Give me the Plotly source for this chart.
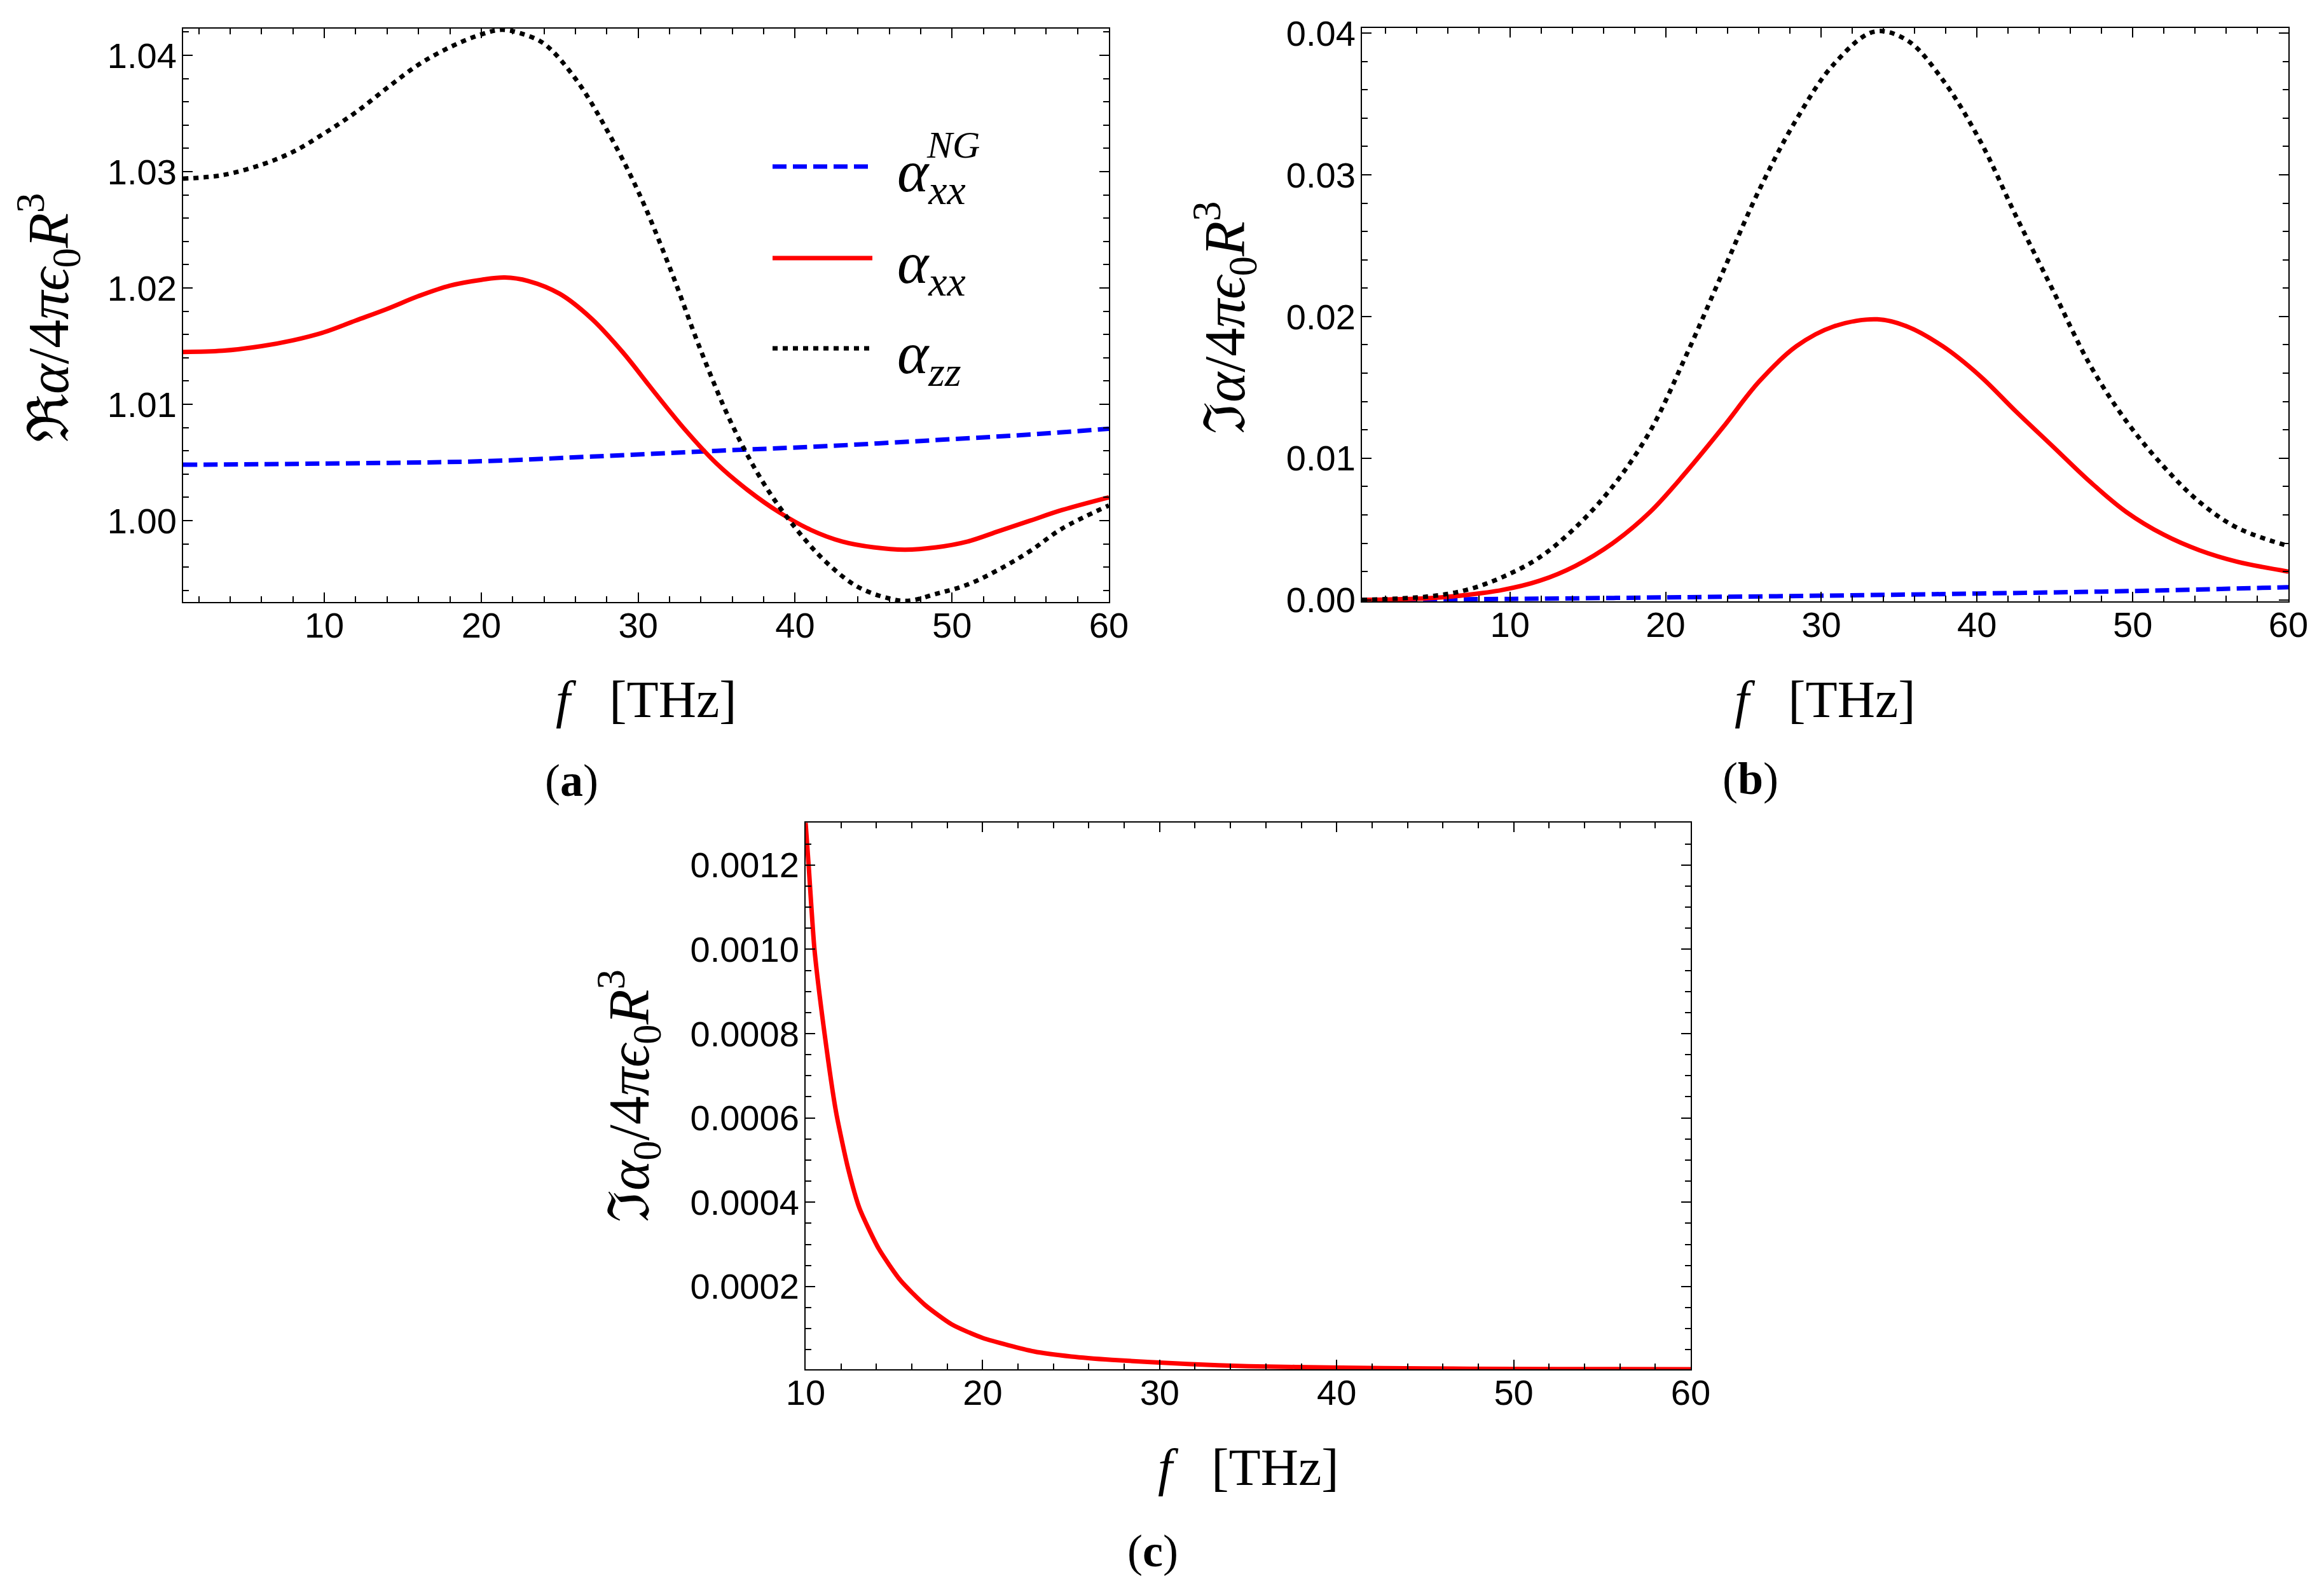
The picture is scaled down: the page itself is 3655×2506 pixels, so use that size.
import plotly.graph_objects as go

# panel (a): real part
f_re_zz = [1, 3.5, 6, 8, 10, 12, 14, 16, 18, 20, 21.3, 22.5, 24, 26, 28, 30, 32, 34, 36, 38,
           40, 42, 44, 46, 47.2, 49, 51, 53, 55, 57, 60]
re_zz = [1.0294, 1.0297, 1.0306, 1.0317, 1.0333, 1.0351, 1.0372, 1.0392, 1.0407, 1.0418,
         1.0422, 1.0419, 1.0410, 1.0380, 1.0336, 1.0283, 1.0218, 1.0146, 1.0082, 1.0032,
         0.9994, 0.9964, 0.9943, 0.9933, 0.9931, 0.9937, 0.9945, 0.9958, 0.9974, 0.9993, 1.0013]
f_re_xx = [1, 3.5, 6, 8, 10, 12, 14, 16, 18, 20, 21.5, 23, 25, 27, 29, 31, 33, 35, 37, 39,
           41, 43, 45, 47, 49, 51, 53, 55, 57, 60]
re_xx = [1.0145, 1.0146, 1.0150, 1.0155, 1.0162, 1.0172, 1.0182, 1.0193, 1.0202, 1.0207,
         1.0209, 1.0206, 1.0195, 1.0174, 1.0145, 1.0111, 1.0078, 1.0049, 1.0026, 1.0007,
         0.9992, 0.9982, 0.9977, 0.9975, 0.9977, 0.9982, 0.9991, 1.0000, 1.0009, 1.0020]
f_re_ng = [1, 10, 20, 27, 35, 42, 50, 55, 60]
re_ng = [1.0048, 1.0049, 1.0051, 1.0055, 1.0060, 1.0064, 1.0070, 1.0074, 1.0079]

# panel (b): imaginary part
f_im_zz = [0.5, 4.8, 7.2, 9.5, 11.9, 14.2, 16.6, 19, 21.3, 23.7, 26, 28.4, 30.8, 33.4, 35.5,
           37.8, 40.2, 42.5, 44.9, 47.3, 49.6, 52, 54.3, 56.7, 60]
im_zz = [0, 0.00025, 0.0007, 0.0016, 0.003, 0.0051, 0.008, 0.0119, 0.0172, 0.0232, 0.0289,
         0.0339, 0.0378, 0.0401, 0.0395, 0.0367, 0.0324, 0.0271, 0.0218, 0.0165, 0.0126,
         0.0094, 0.0069, 0.0051, 0.0038]
f_im_xx = [0.5, 4.8, 7.2, 9.5, 11.9, 14.2, 16.6, 19, 21.3, 23.7, 26, 28.4, 30.8, 33.6, 35.5,
           37.8, 40.2, 42.5, 44.9, 47.3, 49.6, 52, 54.3, 56.7, 60]
im_xx = [0, 0.00012, 0.00035, 0.0007, 0.00135, 0.0024, 0.0040, 0.0062, 0.009, 0.0122, 0.0154,
         0.0179, 0.0193, 0.0198, 0.0193, 0.0179, 0.0158, 0.0133, 0.0108, 0.0083, 0.0062,
         0.0046, 0.0035, 0.0027, 0.0020]
f_im_ng = [0.5, 10, 20, 30, 40, 50, 60]
im_ng = [0, 0.00007, 0.00018, 0.0003, 0.00045, 0.00063, 0.0009]

# panel (c): imaginary part of alpha_0
f_im0 = [10, 10.17, 10.5, 11.07, 11.72, 12.4, 13.04, 14.14, 15.37, 16.75, 18.26, 20, 22.9,
         25, 27.3, 31.6, 35, 40.3, 45, 50, 55, 60]
im0 = [0.0013, 0.0012, 0.0010, 0.0008, 0.000614, 0.00048, 0.000386, 0.000289, 0.000214,
       0.000156, 0.00011, 0.000078, 0.000046, 0.000034, 0.000026, 0.000016, 0.000011,
       0.0000075, 0.0000055, 0.0000045, 0.000004, 0.0000037]

legend_labels = ["<i>α</i><sub><i>xx</i></sub>", "<i>α</i><sub><i>xx</i></sub>",
                 "<i>α</i><sub><i>zz</i></sub>"]

# page has an 8px body margin, so work in screen pixels and convert
W, H, OFF = 3647, 2498, 8


def px(x):
    return (x - OFF) / W


def py(y):
    return 1 - (y - OFF) / H


serif = "Liberation Serif, DejaVu Serif, serif"
blue_line = dict(color="rgb(0,0,255)", width=7, dash="22px,10px", shape="spline", smoothing=1)
red_line = dict(color="rgb(255,0,0)", width=7, shape="spline", smoothing=1)
black_line = dict(color="black", width=7, dash="8px,8px", shape="spline", smoothing=1)

fig = go.Figure()
fig.add_trace(go.Scatter(x=f_re_ng, y=re_ng, mode="lines", line=blue_line, xaxis="x", yaxis="y"))
fig.add_trace(go.Scatter(x=f_re_xx, y=re_xx, mode="lines", line=red_line, xaxis="x", yaxis="y"))
fig.add_trace(go.Scatter(x=f_re_zz, y=re_zz, mode="lines", line=black_line, xaxis="x", yaxis="y"))
fig.add_trace(go.Scatter(x=f_im_ng, y=im_ng, mode="lines", line=blue_line, xaxis="x2", yaxis="y2"))
fig.add_trace(go.Scatter(x=f_im_xx, y=im_xx, mode="lines", line=red_line, xaxis="x2", yaxis="y2"))
fig.add_trace(go.Scatter(x=f_im_zz, y=im_zz, mode="lines", line=black_line, xaxis="x2", yaxis="y2"))
fig.add_trace(go.Scatter(x=f_im0, y=im0, mode="lines",
                         line=dict(color="rgb(255,0,0)", width=7, shape="spline", smoothing=0.6),
                         xaxis="x3", yaxis="y3"))


def frame(domain, rng, dtick, minor, fmt, anchor, standoff):
    return dict(domain=domain, range=rng, dtick=dtick, tick0=0, tickformat=fmt, anchor=anchor,
                showline=True, linecolor="black", linewidth=2, mirror="allticks",
                ticks="inside", ticklen=15, tickwidth=2, tickcolor="black",
                minor=dict(ticks="inside", ticklen=9, tickwidth=2, tickcolor="black", dtick=minor),
                showgrid=False, zeroline=False, ticklabelstandoff=standoff, automargin=False,
                tickfont=dict(family="Liberation Sans, Arial", size=56, color="black"))


fig.update_layout(
    width=W, height=H,
    margin=dict(l=0, r=0, t=0, b=0, autoexpand=False),
    paper_bgcolor="white", plot_bgcolor="white",
    showlegend=False,
    xaxis=frame([px(288), px(1744)], [1, 60], 10, 2, "d", "y", -13),
    yaxis=frame([py(947), py(45)], [0.9930, 1.0423], 0.01, 0.002, ".2f", "x", -3),
    xaxis2=frame([px(2142), px(3599)], [0.5, 60], 10, 2, "d", "y2", -13),
    yaxis2=frame([py(946), py(44)], [-0.0001, 0.04036], 0.01, 0.002, ".2f", "x2", -3),
    xaxis3=frame([px(1267), px(2659)], [10, 60], 10, 2, "d", "y3", -13),
    yaxis3=frame([py(2154), py(1294)], [0.0000037, 0.0013008], 0.0002, 0.00005, ".4f", "x3", -3),
)

annotations = []


def note(x, y, text, size, angle=0):
    annotations.append(dict(x=px(x), y=py(y), xref="paper", yref="paper", showarrow=False,
                            xanchor="center", yanchor="middle", text=text, textangle=angle,
                            font=dict(family=serif, size=size, color="black")))


# axis titles
for x, y in [(1016, 1100), (2870, 1100), (1963, 2308)]:
    note(x, y, "<i>f</i>\u00a0\u00a0\u00a0[THz]", 82)
note(76, 500, "ℜ<i>α</i>/4<i>πϵ</i><sub>0</sub><i>R</i><sup>3</sup>", 90, -90)
note(1926, 500, "ℑ<i>α</i>/4<i>πϵ</i><sub>0</sub><i>R</i><sup>3</sup>", 90, -90)
note(989, 1724, "ℑ<i>α</i><sub>0</sub>/4<i>πϵ</i><sub>0</sub><i>R</i><sup>3</sup>", 90, -90)
# panel labels
note(899, 1228, "(<b>a</b>)", 72)
note(2753, 1225, "(<b>b</b>)", 72)
note(1813, 2440, "(<b>c</b>)", 72)

# legend inside panel (a)
leg_y = [262, 406, 548]
leg_styles = [blue_line, red_line, black_line]
shapes = []
for yy, st, lab in zip(leg_y, leg_styles, legend_labels):
    shapes.append(dict(type="line", xref="paper", yref="paper", x0=px(1215), x1=px(1372),
                       y0=py(yy), y1=py(yy), line=dict(color=st["color"], width=st["width"],
                                                       dash=st.get("dash", "solid"))))
    annotations.append(dict(x=px(1409), y=py(yy + 14), xref="paper", yref="paper",
                            xanchor="left", yanchor="middle", showarrow=False, text=lab,
                            font=dict(family=serif, size=94, color="black")))
annotations.append(dict(x=px(1455), y=py(228), xref="paper", yref="paper",
                        xanchor="left", yanchor="middle", showarrow=False, text="<i>NG</i>",
                        font=dict(family=serif, size=60, color="black")))

fig.update_layout(annotations=annotations, shapes=shapes)

fig.write_html("out.html")
